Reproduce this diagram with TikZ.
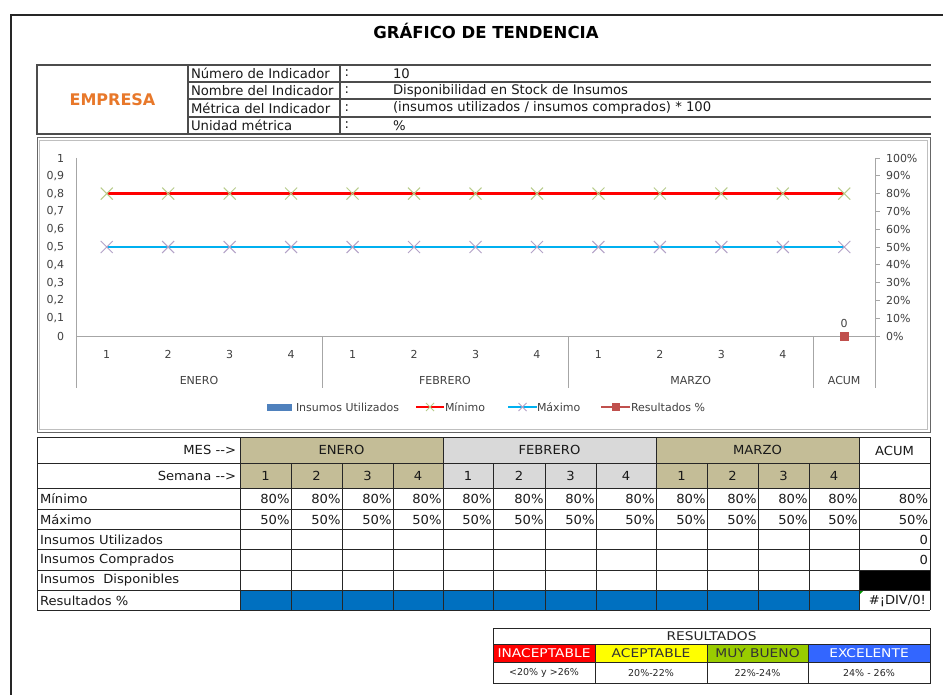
\documentclass[tikz,border=0pt]{standalone}
\usepackage{fontspec}
\setmainfont{DejaVu Sans}
\newfontfamily\chartfont{DejaVu Sans}
\newfontfamily\tblfont{DejaVu Sans}[FakeStretch=1.05]
\newfontfamily\resfont{DejaVu Sans}[FakeStretch=1.15]
\definecolor{empOrange}{HTML}{E8782A}
\definecolor{tanFill}{HTML}{C4BD97}
\definecolor{grayFill}{HTML}{D9D9D9}
\definecolor{resBlue}{HTML}{0070C0}
\definecolor{minRed}{HTML}{FF0000}
\definecolor{maxBlue}{HTML}{00B0F0}
\definecolor{minMark}{HTML}{B8CC8A}
\definecolor{maxMark}{HTML}{B3A2C7}
\definecolor{resSq}{HTML}{C0504D}
\definecolor{legBlue}{HTML}{4F81BD}
\definecolor{okYellow}{HTML}{FFFF00}
\definecolor{goodGreen}{HTML}{99CC00}
\definecolor{excBlue}{HTML}{3366FF}
\definecolor{axisGray}{HTML}{A6A6A6}
\begin{document}
\begin{tikzpicture}[x=1pt,y=-1pt,
  every node/.style={inner sep=0pt,outer sep=0pt},
  titlefont/.style={font=\bfseries\fontsize{16.5}{18}\selectfont},
  hdrtext/.style={font=\fontsize{13.2}{15}\selectfont,anchor=west,text=black!90},
  charttext/.style={font=\chartfont\fontsize{11}{13}\selectfont,text=black!75},
  tbltext/.style={font=\tblfont\fontsize{12.5}{14}\selectfont,text=black!90},
  restext/.style={font=\resfont\fontsize{12}{14}\selectfont},
  rangetext/.style={font=\fontsize{9.5}{11}\selectfont,text=black!85},
  gridline/.style={draw=black!85,line width=0.8pt},
  hdrline/.style={draw=black!70,line width=1.1pt},
  axisline/.style={draw=axisGray,line width=0.8pt},
  minline/.style={draw=minRed,line width=2.6pt},
  maxline/.style={draw=maxBlue,line width=2.6pt},
]
\useasboundingbox (0,0) rectangle (943,695);
\fill[white] (0,0) rectangle (943,695);

% outer frame
\draw[black!85,line width=1.6pt] (11,695) -- (11,15) -- (943,15);

% title
\node[titlefont] (title) at (486,31) {GRÁFICO DE TENDENCIA};

% header table
\draw[hdrline] (37,65) rectangle (188,134);
\draw[hdrline] (188,65) -- (931,65);
\foreach \yy in {82,99,117} {\draw[hdrline] (188,\yy) -- (931,\yy);}
\draw[hdrline] (188,134) -- (931,134);
\draw[hdrline] (340,65) -- (340,134);
\node[font=\bfseries\fontsize{16}{18}\selectfont,text=empOrange] (empresa) at (112.5,99.5) {EMPRESA};
\node[hdrtext] (h1) at (191,73.5) {Número de Indicador};
\node[hdrtext] (h2) at (191,90.5) {Nombre del Indicador};
\node[hdrtext] (h3) at (191,108) {Métrica del Indicador};
\node[hdrtext] (h4) at (191,125.5) {Unidad métrica};
\foreach \yy/\nm in {73.5/c1,90.5/c2,108/c3,125.5/c4} {\node[hdrtext] (\nm) at (344.5,\yy) {:};}
\node[hdrtext] (v1) at (393,73.5) {10};
\node[hdrtext] (v2) at (393,90.5) {Disponibilidad en Stock de Insumos};
\node[hdrtext] (v3) at (393,108) {(insumos utilizados / insumos comprados) * 100};
\node[hdrtext] (v4) at (393,125.5) {\%};

% chart box
\draw[black!60,line width=1pt] (37,138) rectangle (930,432);
\draw[black!25,line width=0.8pt] (39.5,140.5) rectangle (927.5,429.5);

% axes
\draw[axisline] (76,158) -- (76,388);
\draw[axisline] (875,158) -- (875,388);
\draw[axisline] (76,336) -- (875,336);
\foreach \xx in {322,568,813.5} {\draw[axisline] (\xx,336) -- (\xx,388);}
\foreach \k/\lab/\plab in {0/0/0\%,1/{0,1}/10\%,2/{0,2}/20\%,3/{0,3}/30\%,4/{0,4}/40\%,5/{0,5}/50\%,6/{0,6}/60\%,7/{0,7}/70\%,8/{0,8}/80\%,9/{0,9}/90\%,10/1/100\%} {
  \pgfmathsetmacro\yy{336-17.8*\k}
  \draw[axisline] (875,\yy) -- (880,\yy);
  \node[charttext,anchor=east] (yl\k) at (64,\yy) {\lab};
  \node[charttext,anchor=west] (yr\k) at (886,\yy) {\plab};
}
% category labels
\foreach \i/\w in {1/1,2/2,3/3,4/4,5/1,6/2,7/3,8/4,9/1,10/2,11/3,12/4} {
  \pgfmathsetmacro\cx{76+61.4615*(\i-0.5)}
  \node[charttext] (wk\i) at (\cx,354) {\w};
}
\node[charttext] (mEne) at (199,380) {ENERO};
\node[charttext] (mFeb) at (445,380) {FEBRERO};
\node[charttext] (mMar) at (690.7,380) {MARZO};
\node[charttext] (mAcu) at (844.2,380) {ACUM};

% series lines
\draw[minline] (106.7,193.6) -- (844.2,193.6);
\draw[maxline] (106.7,247) -- (844.2,247);
\foreach \i in {1,...,13} {
  \pgfmathsetmacro\cx{76+61.4615*(\i-0.5)}
  \draw[minMark,line width=1pt] (\cx-6,187.6) -- (\cx+6,199.6) (\cx-6,199.6) -- (\cx+6,187.6);
  \draw[maxMark,line width=1pt] (\cx-6,241) -- (\cx+6,253) (\cx-6,253) -- (\cx+6,241);
}
\fill[resSq] (839.7,331.5) rectangle (848.7,340.5);
\node[charttext] (zero) at (844.2,323) {0};

% legend
\fill[legBlue] (267,403.5) rectangle (292,410.5);
\node[charttext,anchor=west] (lg1) at (296,407.5) {Insumos Utilizados};
\draw[minRed,line width=2pt] (416,407) -- (444,407);
\draw[minMark,line width=0.8pt] (426,403) -- (434,411) (426,411) -- (434,403);
\node[charttext,anchor=west] (lg2) at (445,407.5) {Mínimo};
\draw[maxBlue,line width=2pt] (508,407) -- (537,407);
\draw[maxMark,line width=0.8pt] (518.5,403) -- (526.5,411) (518.5,411) -- (526.5,403);
\node[charttext,anchor=west] (lg3) at (537,407.5) {Máximo};
\draw[resSq,line width=2pt] (601,407) -- (630,407);
\fill[resSq] (611.5,403) rectangle (619.5,411);
\node[charttext,anchor=west] (lg4) at (631,407.5) {Resultados \%};

% data table fills
\fill[tanFill] (240,437) rectangle (443,488);
\fill[grayFill] (443,437) rectangle (656,488);
\fill[tanFill] (656,437) rectangle (859,488);
\fill[resBlue] (240,590) rectangle (859,610);
\fill[black] (859,570) rectangle (930,590);
\fill[green!60!black] (859,590) -- (864,590) -- (859,595) -- cycle;

% data table grid
\foreach \yy in {437,463,488,509,529,549,570,590,610} {\draw[gridline] (37,\yy) -- (930,\yy);}
\foreach \xx in {37,240,443,656,859,930} {\draw[gridline] (\xx,437) -- (\xx,610);}
\foreach \xx in {291,342,393,493,545,596,707,758,809} {\draw[gridline] (\xx,463) -- (\xx,610);}

% table texts
\node[tbltext,anchor=east] (mes) at (236,450) {MES -{}-{}>};
\node[tbltext] (tEne) at (341.5,450) {ENERO};
\node[tbltext] (tFeb) at (549.5,450) {FEBRERO};
\node[tbltext] (tMar) at (757.5,450) {MARZO};
\node[tbltext] (tAcu) at (894.5,450.5) {ACUM};
\node[tbltext,anchor=east] (sem) at (236,475.5) {Semana -{}-{}>};
\foreach \a/\b/\w [count=\n] in {240/291/1,291/342/2,342/393/3,393/443/4,443/493/1,493/545/2,545/596/3,596/656/4,656/707/1,707/758/2,758/809/3,809/859/4} {
  \node[tbltext] (sw\n) at ({(\a+\b)/2},476) {\w};
  \node[tbltext,anchor=east] (mn\n) at (\b-1.5,499) {80\%};
  \node[tbltext,anchor=east] (mx\n) at (\b-1.5,519.5) {50\%};
}
\node[tbltext,anchor=east] (mnA) at (928,499) {80\%};
\node[tbltext,anchor=east] (mxA) at (928,519.5) {50\%};
\node[tbltext,anchor=east] (iuA) at (928,539.5) {0};
\node[tbltext,anchor=east] (icA) at (928,560) {0};
\node[tbltext,anchor=east] (resA) at (926,600.5) {\#¡DIV/0!};
\node[tbltext,anchor=west] (r1) at (40,499) {Mínimo};
\node[tbltext,anchor=west] (r2) at (40,519.5) {Máximo};
\node[tbltext,anchor=west] (r3) at (40,539.5) {Insumos Utilizados};
\node[tbltext,anchor=west] (r4) at (40,560) {Insumos Comprados};
\node[tbltext,anchor=west] (r5) at (40,580) {Insumos\ \ Disponibles};
\node[tbltext,anchor=west] (r6) at (40,600.5) {Resultados \%};

% results legend box
\fill[minRed] (493,644) rectangle (595,662);
\fill[okYellow] (595,644) rectangle (707,662);
\fill[goodGreen] (707,644) rectangle (808,662);
\fill[excBlue] (808,644) rectangle (930,662);
\draw[gridline] (493,628) rectangle (930,683);
\draw[gridline] (493,644) -- (930,644);
\draw[gridline] (493,662) -- (930,662);
\foreach \xx in {595,707,808} {\draw[gridline] (\xx,644) -- (\xx,683);}
\node[restext,text=black!85] (resT) at (711.5,636.5) {RESULTADOS};
\node[restext,text=white] (q1) at (544,653.5) {INACEPTABLE};
\node[restext,text=black!80] (q2) at (651,653.5) {ACEPTABLE};
\node[restext,text=black!80] (q3) at (757.5,653.5) {MUY BUENO};
\node[restext,text=white] (q4) at (869,653.5) {EXCELENTE};
\node[rangetext] (p1) at (544,673) {<20\% y >26\%};
\node[rangetext] (p2) at (651,673) {20\%-22\%};
\node[rangetext] (p3) at (757.5,673) {22\%-24\%};
\node[rangetext] (p4) at (869,673) {24\% - 26\%};
\end{tikzpicture}
\end{document}
